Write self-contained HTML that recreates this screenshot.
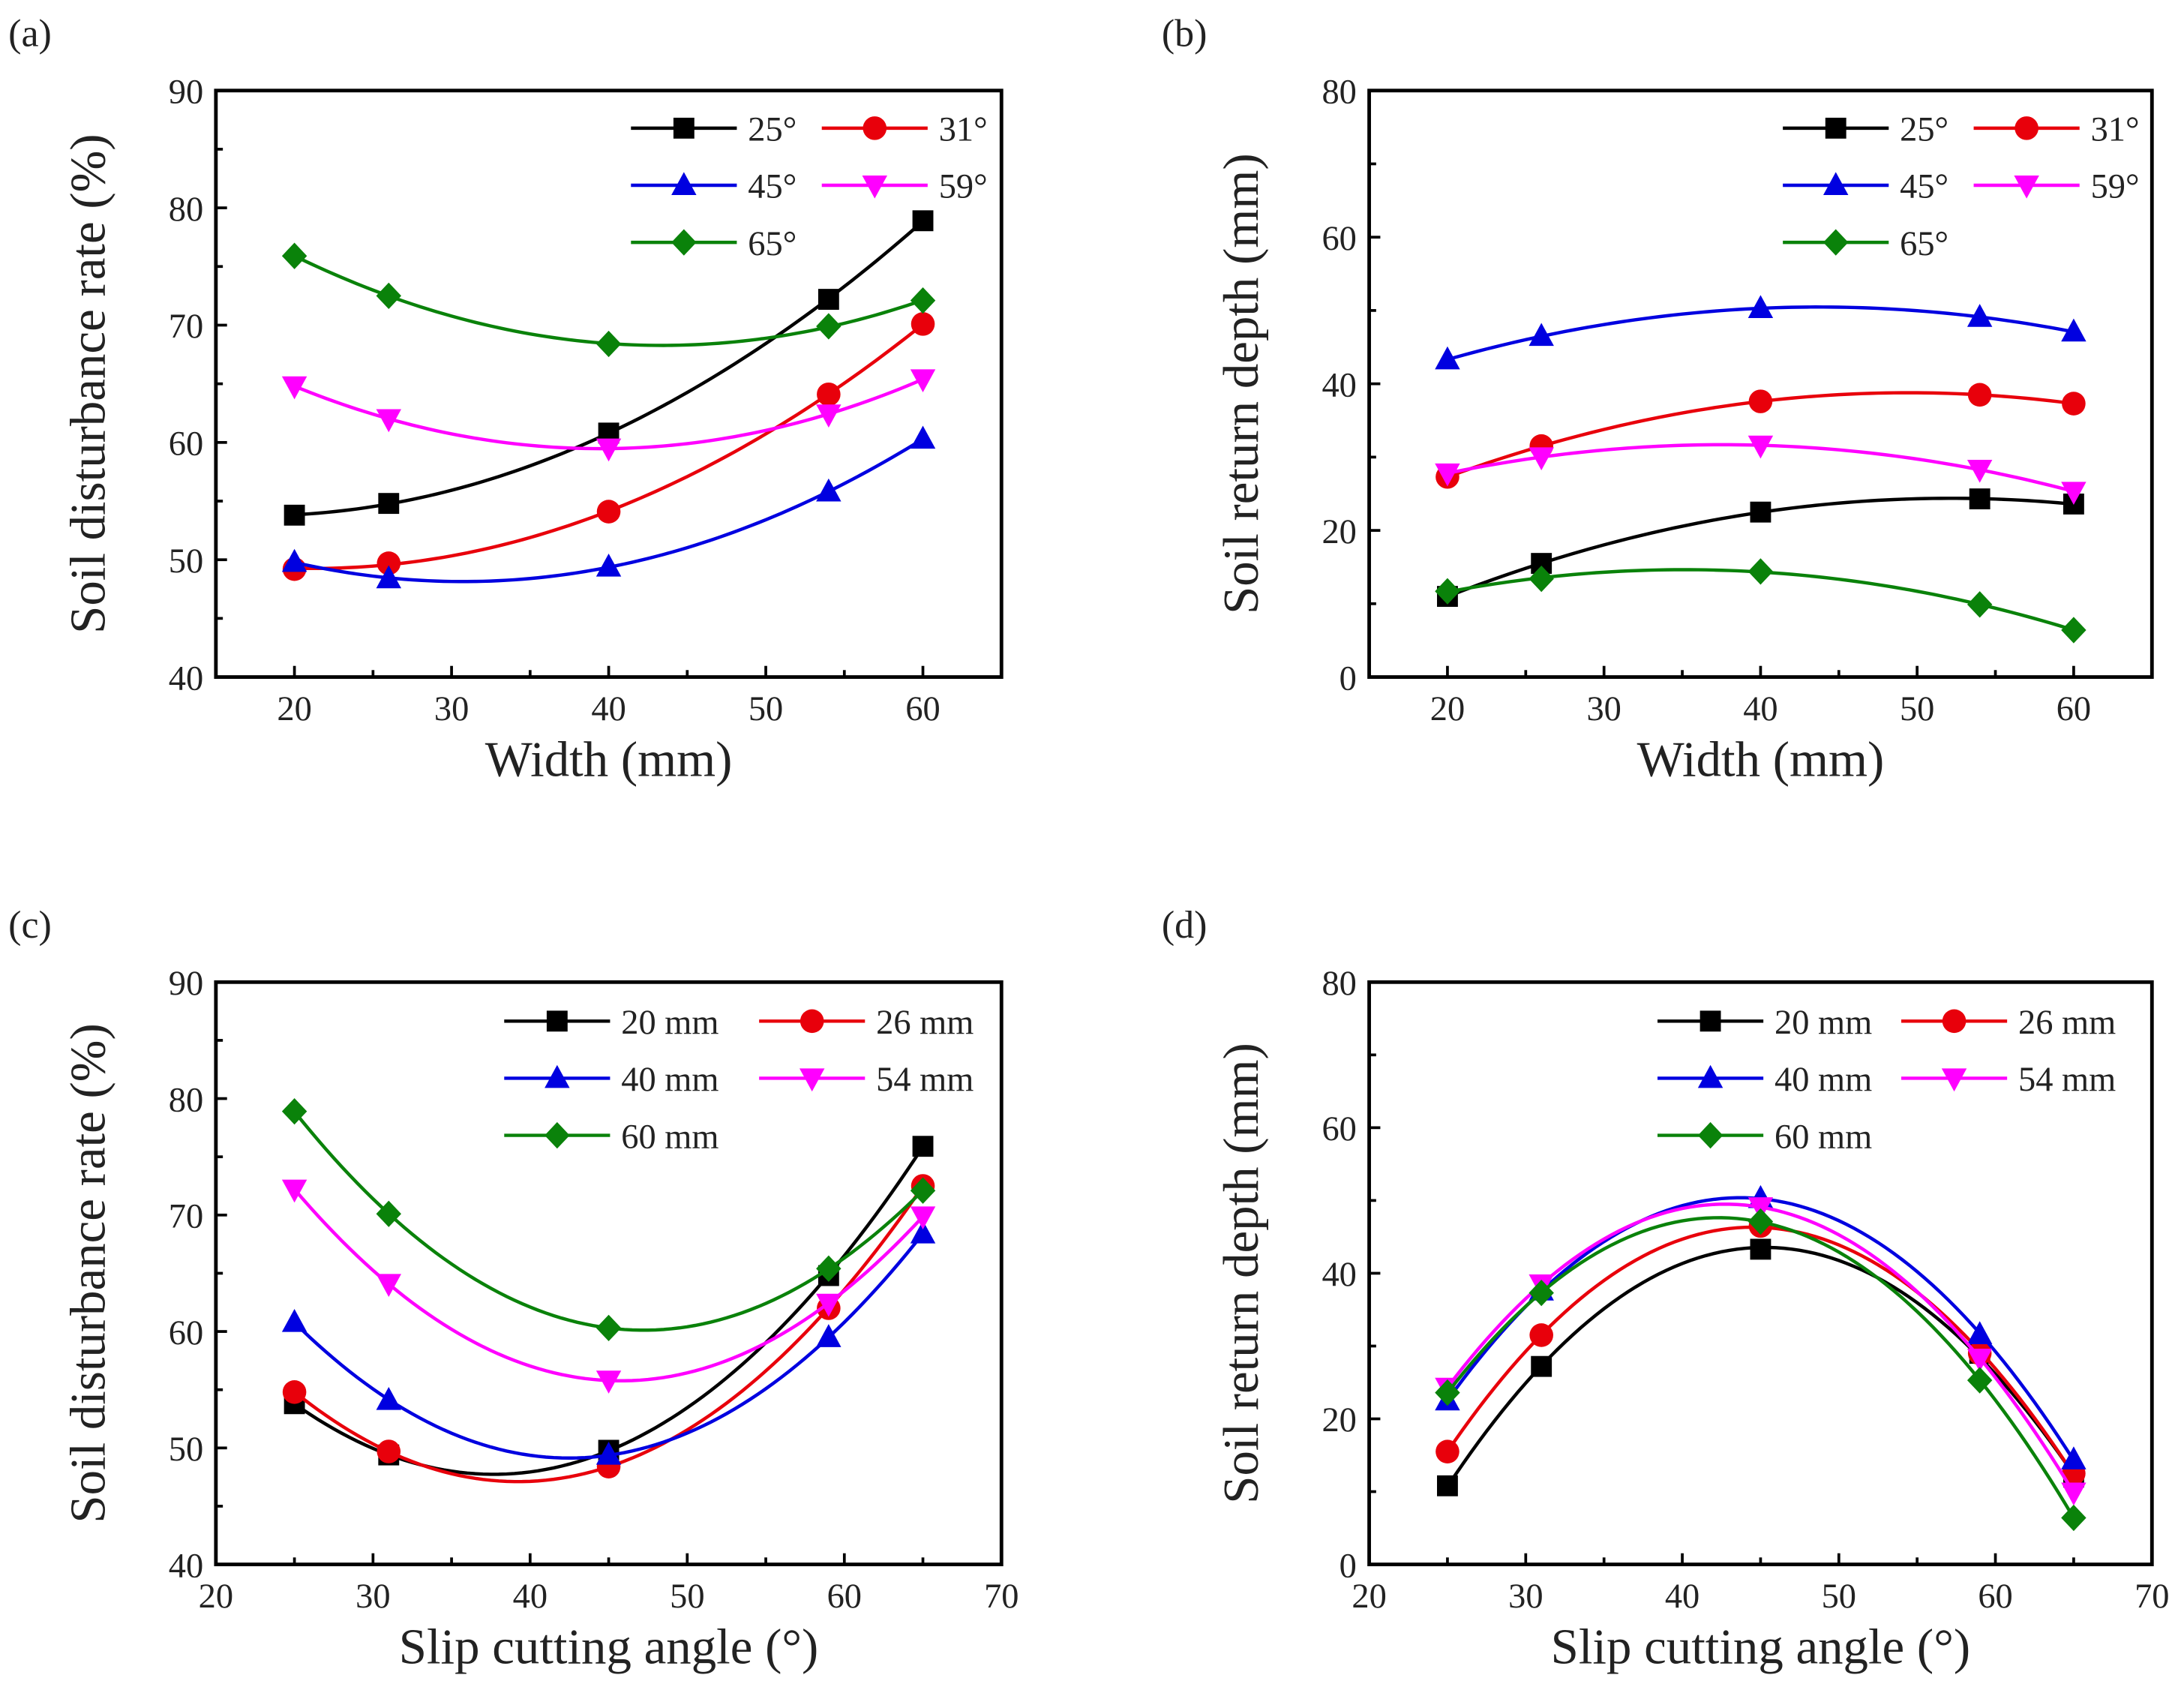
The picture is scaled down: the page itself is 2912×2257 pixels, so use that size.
<!DOCTYPE html>
<html><head><meta charset="utf-8"><style>
html,body{margin:0;padding:0;background:#fff}
svg{display:block}
text{font-family:"Liberation Serif",serif;fill:#222}
</style></head><body>
<svg id="fig" width="2912" height="2257" viewBox="0 0 1568 1215.3" xmlns="http://www.w3.org/2000/svg"></svg>
<script>
// ---- data ----
const widths=[20,26,40,54,60];
const angles=[25,31,45,59,65];
const angleNames=["25°","31°","45°","59°","65°"];
const widthNames=["20 mm","26 mm","40 mm","54 mm","60 mm"];
const aS1=[53.8,54.8,60.8,72.2,78.9];
const aS2=[49.2,49.7,54.1,64.1,70.1];
const aS3=[49.8,48.4,49.4,55.8,60.3];
const aS4=[64.8,62.0,59.5,62.4,65.4];
const aS5=[75.9,72.5,68.4,69.9,72.1];
const bS1=[11.0,15.5,22.5,24.3,23.6];
const bS2=[27.3,31.5,37.6,38.5,37.3];
const bS3=[43.3,46.5,50.3,49.1,47.1];
const bS4=[27.8,30.0,31.6,28.3,25.3];
const bS5=[11.7,13.4,14.4,9.9,6.4];
const cS1=[53.8,49.4,49.8,64.8,75.9];
const cS2=[54.8,49.7,48.4,62.0,72.5];
const cS3=[60.8,54.1,49.4,59.5,68.4];
const cS4=[72.2,64.1,55.8,62.4,69.9];
const cS5=[78.9,70.1,60.3,65.4,72.1];
const dS1=[10.8,27.2,43.3,29.0,12.0];
const dS2=[15.5,31.5,46.5,29.0,12.5];
const dS3=[22.5,37.6,50.3,31.6,14.4];
const dS4=[24.3,38.5,49.1,28.3,9.9];
const dS5=[23.6,37.3,47.1,25.3,6.4];
const aYTicks=[40,50,60,70,80,90];
const bYTicks=[0,20,40,60,80];
const abXTicks=[20,30,40,50,60];
const cdXTicks=[20,30,40,50,60,70];

const NS="http://www.w3.org/2000/svg";
const svg=document.getElementById('fig');
const colors=["#000","#e8000b","#0000e0","#ff00ff","#0a820a"];
const shapes=["square","circle","up","down","diamond"];
function mk(tag,attrs,parent){const e=document.createElementNS(NS,tag);for(const k in attrs)e.setAttribute(k,attrs[k]);(parent||svg).appendChild(e);return e;}
function marker(g,shape,x,y,c){
  const r=8.5;let e;
  if(shape==="square")e=mk('rect',{x:x-7.5,y:y-7.5,width:15,height:15,fill:c},g);
  else if(shape==="circle")e=mk('circle',{cx:x,cy:y,r:8.5,fill:c},g);
  else if(shape==="up")e=mk('polygon',{points:`${x},${y-9.5} ${x+9},${y+7} ${x-9},${y+7}`,fill:c},g);
  else if(shape==="down")e=mk('polygon',{points:`${x},${y+9.5} ${x+9},${y-7} ${x-9},${y-7}`,fill:c},g);
  else e=mk('polygon',{points:`${x},${y-r-1} ${x+r+0.5},${y} ${x},${y+r+1} ${x-r-0.5},${y}`,fill:c},g);
  
  
}
function quadFit(xs,ys){
  let n=xs.length,S=[0,0,0,0,0],T=[0,0,0];
  for(let i=0;i<n;i++){let p=1;for(let k=0;k<5;k++){S[k]+=p;if(k<3)T[k]+=p*ys[i];p*=xs[i];}}
  const A=[[S[0],S[1],S[2],T[0]],[S[1],S[2],S[3],T[1]],[S[2],S[3],S[4],T[2]]];
  for(let i=0;i<3;i++){for(let j=i+1;j<3;j++){const f=A[j][i]/A[i][i];for(let k=i;k<4;k++)A[j][k]-=f*A[i][k];}}
  const c=[0,0,0];for(let i=2;i>=0;i--){let s=A[i][3];for(let k=i+1;k<3;k++)s-=A[i][k]*c[k];c[i]=s/A[i][i];}
  return x=>c[0]+c[1]*x+c[2]*x*x;
}
function panel(o){
  const g=mk('g',{});
  
  
  const X=v=>o.L+(v-o.x0)/(o.x1-o.x0)*(o.R-o.L);
  const Y=v=>o.B-(v-o.y0)/(o.y1-o.y0)*(o.B-o.T);
  const lbl=mk('text',{x:o.labX,y:o.labY,'font-size':28},g);lbl.textContent=o.label;
  
  const step=o.xTicks[1]-o.xTicks[0];
  for(let v=o.x0;v<=o.x1+0.01;v+=step/2){
    const major=Math.abs((v-o.xTicks[0])/step-Math.round((v-o.xTicks[0])/step))<0.01;
    const t=mk('line',{x1:X(v),x2:X(v),y1:o.B,y2:o.B-(major?8:5),stroke:'#000','stroke-width':2},g);
    
  }
  o.xTicks.forEach(v=>{const t=mk('text',{x:X(v),y:o.B+31,'font-size':25,'text-anchor':'middle'},g);t.textContent=v;
    });
  const ys=o.yTicks[1]-o.yTicks[0];
  for(let v=o.y0;v<=o.y1+0.01;v+=ys/2){
    const major=Math.abs((v-o.y0)/ys-Math.round((v-o.y0)/ys))<0.01;
    const t=mk('line',{x1:o.L,x2:o.L+(major?8:5),y1:Y(v),y2:Y(v),stroke:'#000','stroke-width':2},g);
    
  }
  o.yTicks.forEach(v=>{const t=mk('text',{x:o.L-9,y:Y(v)+9,'font-size':25,'text-anchor':'end'},g);t.textContent=v;
    });
  const xt=mk('text',{x:(o.L+o.R)/2,y:o.B+71,'font-size':36,'text-anchor':'middle'},g);xt.textContent=o.xTitle;
  
  const cy=(o.T+o.B)/2;
  const yt=mk('text',{x:o.L-92,y:cy,'font-size':36,'text-anchor':'middle',transform:`rotate(-90 ${o.L-92} ${cy})`},g);
  yt.setAttribute('dy','12');yt.textContent=o.yTitle;
  
  o.series.forEach((s,i)=>{
    const sg=mk('g',{},g);
    
    
    const f=quadFit(o.xs,s);let d='';
    const a=o.xs[0],b=o.xs[o.xs.length-1];
    for(let k=0;k<=80;k++){const x=a+(b-a)*k/80;d+=(k?'L':'M')+X(x).toFixed(2)+','+Y(f(x)).toFixed(2);}
    const p=mk('path',{d:d,fill:'none',stroke:colors[i],'stroke-width':2.4},sg);
    
    o.xs.forEach((x,j)=>marker(sg,shapes[i],X(x),Y(s[j]),colors[i]));
  });
  const fr=mk('rect',{x:o.L,y:o.T,width:o.R-o.L,height:o.B-o.T,fill:'none',stroke:'#000','stroke-width':2.6},g);
  
  const lg=mk('g',{},g);
  
  o.names.forEach((n,i)=>{
    const col=i%2,row=Math.floor(i/2);
    const lx=o.legX[col],ly=o.legY+row*41;
    const e=mk('g',{},lg);
    
    mk('line',{x1:lx,x2:lx+o.legLen,y1:ly,y2:ly,stroke:colors[i],'stroke-width':2.4},e);
    marker(e,shapes[i],lx+o.legLen/2,ly,colors[i]);
    const t=mk('text',{x:lx+o.legLen+8,y:ly+9,'font-size':25},e);t.textContent=n;
  });
}
panel({name:'panel-a',label:'(a)',labX:6,labY:33,L:155,R:719,T:65,B:486,x0:15,x1:65,y0:40,y1:90,
  xTicks:abXTicks,yTicks:aYTicks,xs:widths,series:[aS1,aS2,aS3,aS4,aS5],names:angleNames,
  xTitle:'Width (mm)',yTitle:'Soil disturbance rate (%)',legX:[453,590],legY:92,legLen:76});
panel({name:'panel-b',label:'(b)',labX:834,labY:33,L:983,R:1545,T:65,B:486,x0:15,x1:65,y0:0,y1:80,
  xTicks:abXTicks,yTicks:bYTicks,xs:widths,series:[bS1,bS2,bS3,bS4,bS5],names:angleNames,
  xTitle:'Width (mm)',yTitle:'Soil return depth (mm)',legX:[1280,1417],legY:92,legLen:76});
panel({name:'panel-c',label:'(c)',labX:6,labY:673,L:155,R:719,T:705,B:1123,x0:20,x1:70,y0:40,y1:90,
  xTicks:cdXTicks,yTicks:aYTicks,xs:angles,series:[cS1,cS2,cS3,cS4,cS5],names:widthNames,
  xTitle:'Slip cutting angle (°)',yTitle:'Soil disturbance rate (%)',legX:[362,545],legY:733,legLen:76});
panel({name:'panel-d',label:'(d)',labX:834,labY:673,L:983,R:1545,T:705,B:1123,x0:20,x1:70,y0:0,y1:80,
  xTicks:cdXTicks,yTicks:bYTicks,xs:angles,series:[dS1,dS2,dS3,dS4,dS5],names:widthNames,
  xTitle:'Slip cutting angle (°)',yTitle:'Soil return depth (mm)',legX:[1190,1365],legY:733,legLen:76});
</script>
</body></html>
